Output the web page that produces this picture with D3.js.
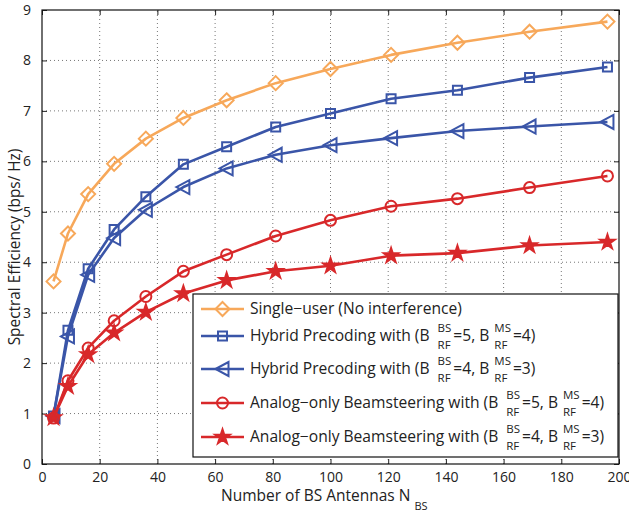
<!DOCTYPE html>
<html>
<head>
<meta charset="utf-8">
<script src="https://cdn.jsdelivr.net/npm/d3@7"></script>
<style>
  body { margin: 0; background: #fff; }
  text { font-family: "Open Sans", "DejaVu Sans", sans-serif; fill: #222; }
  .grid line { stroke: #777; stroke-dasharray: 1 3; stroke-width: 1; }
</style>
</head>
<body>
<svg id="chart" width="629" height="513"></svg>
<script>
// number of BS antennas
var antennas = [4, 9, 16, 25, 36, 49, 64, 81, 100, 121, 144, 169, 196];

// spectral efficiency (bps/Hz) for each curve
var singleUser = [3.62, 4.57, 5.35, 5.95, 6.45, 6.86, 7.21, 7.55, 7.83, 8.11, 8.35, 8.57, 8.77];
var hybrid54   = [0.95, 2.65, 3.87, 4.65, 5.30, 5.94, 6.29, 6.68, 6.95, 7.24, 7.41, 7.66, 7.87];
var hybrid43   = [0.95, 2.53, 3.75, 4.48, 5.04, 5.49, 5.86, 6.13, 6.32, 6.46, 6.60, 6.69, 6.78];
var analog54   = [0.91, 1.65, 2.30, 2.84, 3.32, 3.82, 4.15, 4.52, 4.83, 5.11, 5.26, 5.48, 5.71];
var analog43   = [0.92, 1.54, 2.17, 2.60, 3.01, 3.38, 3.64, 3.82, 3.93, 4.13, 4.18, 4.33, 4.40];

var xTicks = [0, 20, 40, 60, 80, 100, 120, 140, 160, 180, 200];
var yTicks = [0, 1, 2, 3, 4, 5, 6, 7, 8, 9];

var series = [
  {name: "single", values: singleUser, color: "#f7a85a", marker: "diamond",
   label: [{t: "Single\u2212user (No interference)"}]},
  {name: "h54", values: hybrid54, color: "#3a55a8", marker: "square",
   label: [{t: "Hybrid Precoding with (B"}, {sup: "BS", sub: "RF"}, {t: "=5, B"}, {sup: "MS", sub: "RF"}, {t: "=4)"}]},
  {name: "h43", values: hybrid43, color: "#3a55a8", marker: "triangle",
   label: [{t: "Hybrid Precoding with (B"}, {sup: "BS", sub: "RF"}, {t: "=4, B"}, {sup: "MS", sub: "RF"}, {t: "=3)"}]},
  {name: "a54", values: analog54, color: "#d8282a", marker: "circle",
   label: [{t: "Analog\u2212only Beamsteering with (B"}, {sup: "BS", sub: "RF"}, {t: "=5, B"}, {sup: "MS", sub: "RF"}, {t: "=4)"}]},
  {name: "a43", values: analog43, color: "#d8282a", marker: "star",
   label: [{t: "Analog\u2212only Beamsteering with (B"}, {sup: "BS", sub: "RF"}, {t: "=4, B"}, {sup: "MS", sub: "RF"}, {t: "=3)"}]}
];

var svg = d3.select("#chart"),
    margin = {top: 10, right: 10, bottom: 49, left: 42},
    width = 629,
    height = 513;

var x = d3.scaleLinear().domain([0, 200]).range([margin.left, width - margin.right]);
var y = d3.scaleLinear().domain([0, 9]).range([height - margin.bottom, margin.top]);

// grid
svg.append("g").attr("class", "grid")
  .selectAll("line").data(xTicks.slice(1, -1)).join("line")
  .attr("x1", d => x(d)).attr("x2", d => x(d))
  .attr("y1", y(0)).attr("y2", y(9));
svg.append("g").attr("class", "grid")
  .selectAll("line").data(yTicks.slice(1, -1)).join("line")
  .attr("x1", x(0)).attr("x2", x(200))
  .attr("y1", d => y(d)).attr("y2", d => y(d));

// axes (ticks inward on all four sides)
function styleAxis(g) {
  g.select(".domain").remove();
  g.selectAll("line").attr("stroke", "#222");
  g.selectAll("text").attr("font-size", 14).attr("fill", "#222");
}
svg.append("g").attr("transform", "translate(0," + y(0) + ")")
  .call(d3.axisBottom(x).tickValues(xTicks).tickSizeInner(-5).tickSizeOuter(0).tickPadding(8))
  .call(styleAxis);
svg.append("g").attr("transform", "translate(0," + y(9) + ")")
  .call(d3.axisTop(x).tickValues(xTicks).tickSizeInner(-5).tickSizeOuter(0).tickFormat(""))
  .call(styleAxis);
svg.append("g").attr("transform", "translate(" + x(0) + ",0)")
  .call(d3.axisLeft(y).tickValues(yTicks).tickSizeInner(-5).tickSizeOuter(0).tickPadding(11))
  .call(styleAxis);
svg.append("g").attr("transform", "translate(" + x(200) + ",0)")
  .call(d3.axisRight(y).tickValues(yTicks).tickSizeInner(-5).tickSizeOuter(0).tickFormat(""))
  .call(styleAxis);

svg.append("rect")
  .attr("x", x(0)).attr("y", y(9))
  .attr("width", x(200) - x(0)).attr("height", y(0) - y(9))
  .attr("fill", "none").attr("stroke", "#111").attr("stroke-width", 1.2);

// markers
var star = d3.symbol().type(d3.symbolStar).size(65)();
function drawMarker(g, type, color, cx, cy) {
  var m;
  if (type === "diamond") {
    m = g.append("path").attr("d", "M0,-7L7,0L0,7L-7,0Z");
  } else if (type === "square") {
    m = g.append("path").attr("d", "M-4.5,-4.5H4.5V4.5H-4.5Z");
  } else if (type === "triangle") {
    m = g.append("path").attr("d", "M-7,0L6,-7L6,7Z");
  } else if (type === "circle") {
    m = g.append("circle").attr("r", 5.5);
  } else {
    m = g.append("path").attr("d", star);
  }
  m.attr("transform", "translate(" + cx + "," + cy + ")")
    .attr("fill", type === "star" ? color : "none")
    .attr("stroke", color).attr("stroke-width", 2);
}

var line = d3.line().x(d => x(d[0])).y(d => y(d[1]));

series.forEach(function(s) {
  var pts = antennas.map((n, i) => [n, s.values[i]]);
  var g = svg.append("g");
  g.append("path").attr("d", line(pts))
    .attr("fill", "none").attr("stroke", s.color).attr("stroke-width", 2.6)
    .attr("stroke-linejoin", "round");
  pts.forEach(p => drawMarker(g, s.marker, s.color, x(p[0]), y(p[1])));
});

// legend
var legX = 193, legY = 294, legW = x(200) - 1 - legX, legH = 163;
var legend = svg.append("g");
legend.append("rect")
  .attr("x", legX).attr("y", legY).attr("width", legW).attr("height", legH)
  .attr("fill", "#fff").attr("stroke", "#111").attr("stroke-width", 1.2);

var rowY = [309, 336, 369, 403, 437];

// text with stacked super/subscripts (like B_RF^BS)
function richText(g, parts, x0, yc, size, subSize) {
  var cx = x0, first = true;
  parts.forEach(function(p) {
    if (p.t !== undefined) {
      var t = g.append("text").attr("x", cx).attr("y", yc).attr("dy", "0.35em")
        .attr("font-size", size).text(p.t);
      cx += t.node().getComputedTextLength();
    } else {
      cx += first ? 8 : 5;
      first = false;
      var a = g.append("text").attr("x", cx).attr("y", yc - 8).attr("dy", "0.35em")
        .attr("font-size", subSize).text(p.sup);
      var b = g.append("text").attr("x", cx).attr("y", yc + 9).attr("dy", "0.35em")
        .attr("font-size", subSize).text(p.sub);
      cx += Math.max(a.node().getComputedTextLength(), b.node().getComputedTextLength()) + 2;
    }
  });
  return cx;
}

series.forEach(function(s, i) {
  var yy = rowY[i];
  var g = legend.append("g");
  g.append("line").attr("x1", 201).attr("x2", 244).attr("y1", yy).attr("y2", yy)
    .attr("stroke", s.color).attr("stroke-width", 2.6);
  drawMarker(g, s.marker, s.color, 222.5, yy);
  richText(g, s.label, 250, yy, 15.6, 11.5);
});

// axis labels
var xl = svg.append("g");
var xlEnd = richText(xl, [{t: "Number of BS Antennas N"}], 0, 496, 15.5, 11);
xl.append("text").attr("x", xlEnd + 4).attr("y", 506).attr("dy", "0.35em")
  .attr("font-size", 11).text("BS");
xl.attr("transform", "translate(221,0)");

svg.append("text")
  .attr("transform", "translate(15," + ((y(0) + y(9)) / 2 + 10) + ") rotate(-90)")
  .attr("text-anchor", "middle").attr("dy", "0.35em")
  .attr("font-size", 15.4)
  .text("Spectral Efficiency (bps/ Hz)");
</script>
</body>
</html>
